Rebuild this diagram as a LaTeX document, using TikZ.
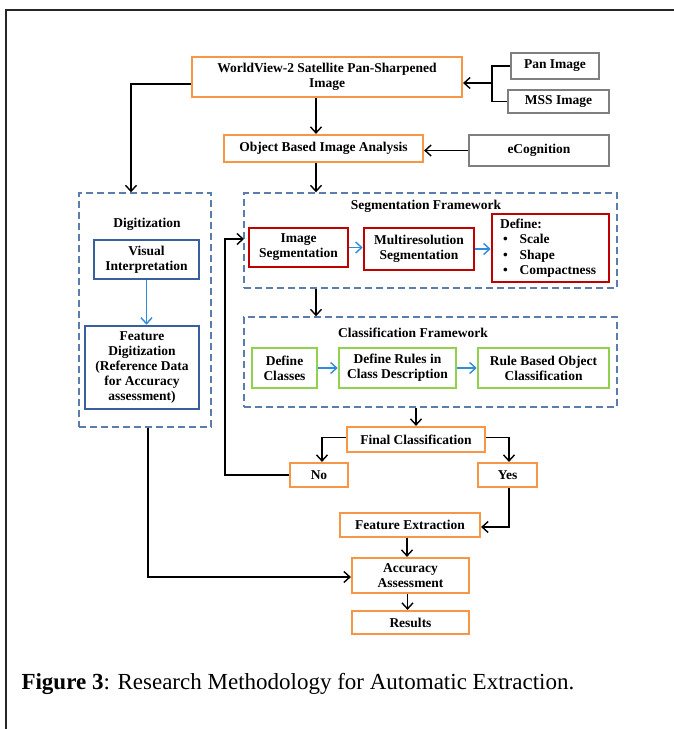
\documentclass[tikz,border=0pt]{standalone}
\usepackage{fontspec}
\setmainfont{Liberation Serif}
\usetikzlibrary{arrows.meta}
\definecolor{boxorange}{HTML}{F79646}
\definecolor{boxgray}{HTML}{7F7F7F}
\definecolor{boxblue}{HTML}{38609E}
\definecolor{boxred}{HTML}{C00000}
\definecolor{boxgreen}{HTML}{92D050}
\definecolor{framedash}{HTML}{5A7DAE}
\definecolor{flowblue}{HTML}{2F8BDB}
\begin{document}
\begin{tikzpicture}[x=1pt, y=-1pt,
  box/.style={draw, line width=2.2pt, fill=white, align=center, inner sep=0pt, font=\bfseries\fontsize{13.5}{15}\selectfont},
  obox/.style={box, draw=boxorange},
  gbox/.style={box, draw=boxgray},
  bbox/.style={box, draw=boxblue, line width=2.6pt},
  rbox/.style={box, draw=boxred, line width=2.6pt},
  cbox/.style={box, draw=boxgreen, line width=2.6pt},
  frame/.style={draw=framedash, line width=1.4pt, dash pattern=on 7pt off 4pt, inner sep=0pt},
  title/.style={font=\bfseries\fontsize{13.5}{15}\selectfont},
  arrow/.style={-{Straight Barb[length=6pt,width=11pt]}, line width=1.4pt},
  barrow/.style={arrow, draw=flowblue}
]
\useasboundingbox (0,0) rectangle (674,729);
\draw[line width=1.2pt, black!85] (6,729) -- (6,10) -- (674,10);

\node[obox, minimum width=270pt, minimum height=40pt] (wv) at (327,77) {WorldView-2 Satellite Pan-Sharpened\\Image};
\node[gbox, minimum width=88pt, minimum height=26pt] (pan) at (555,66) {Pan Image};
\node[gbox, minimum width=101pt, minimum height=23pt] (mss) at (558.5,101.5) {MSS Image};
\node[obox, minimum width=199pt, minimum height=27pt] (obia) at (323.5,148.5) {Object Based Image Analysis};
\node[gbox, minimum width=140pt, minimum height=31pt] (ecog) at (539,150.5) {eCognition};

\node[frame, minimum width=132pt, minimum height=234pt] (digit) at (145,310) {};
\node[title] (digittitle) at (147,224) {Digitization};
\node[bbox, minimum width=105pt, minimum height=39pt] (visual) at (146.5,259.5) {Visual\\Interpretation};
\node[bbox, minimum width=114pt, minimum height=83pt] (featdig) at (142,367.5) {Feature\\Digitization\\(Reference Data\\for Accuracy\\assessment)};

\node[frame, minimum width=373pt, minimum height=95pt] (segframe) at (430.5,240.5) {};
\node[title] (segtitle) at (426,206) {Segmentation Framework};
\node[rbox, minimum width=99pt, minimum height=39pt] (imgseg) at (298.5,247.5) {Image\\Segmentation};
\node[rbox, minimum width=110pt, minimum height=42pt] (multi) at (419,249) {Multiresolution\\Segmentation};
\node[rbox, minimum width=117pt, minimum height=68pt, text width=101pt, align=left, font=\bfseries\fontsize{13.5}{15.5}\selectfont] (define) at (550.5,248)
  {Define:\\\hspace*{3pt}\textbullet\hspace{12pt}Scale\\\hspace*{3pt}\textbullet\hspace{12pt}Shape\\\hspace*{3pt}\textbullet\hspace{12pt}Compactness};

\node[frame, minimum width=373pt, minimum height=90pt] (classframe) at (430.5,362) {};
\node[title] (classtitle) at (413,333) {Classification Framework};
\node[cbox, minimum width=65pt, minimum height=40pt] (defcls) at (284.5,368) {Define\\Classes};
\node[cbox, minimum width=117pt, minimum height=40pt] (defrules) at (397.5,368) {Define Rules in\\Class Description};
\node[cbox, minimum width=131pt, minimum height=40pt] (rulebased) at (543.5,368) {Rule Based Object\\Classification};

\node[obox, minimum width=138pt, minimum height=25pt] (final) at (416,439.5) {Final Classification};
\node[obox, minimum width=58pt, minimum height=24pt] (no) at (319,475) {No};
\node[obox, minimum width=59pt, minimum height=24pt] (yes) at (507.5,475) {Yes};
\node[obox, minimum width=140pt, minimum height=24pt] (featext) at (410,525) {Feature Extraction};
\node[obox, minimum width=117pt, minimum height=35pt] (acc) at (410.5,575.5) {Accuracy\\Assessment};
\node[obox, minimum width=117pt, minimum height=23pt] (results) at (410.5,622.5) {Results};

\node[anchor=base west, font=\fontsize{23}{27}\selectfont] (caption) at (18,689) {\textbf{Figure 3}: Research Methodology for Automatic Extraction.};

\coordinate (junc) at (492,83);
\coordinate (spine) at (316,0);
\coordinate (segin) at (244,239);

\draw[line width=1.4pt] (pan.west) -| (junc);
\draw[line width=1.4pt] (mss.west) -| (junc);
\draw[arrow] (junc) -- (junc -| wv.east);
\draw[arrow] (spine |- wv.south) -- (spine |- obia.north);
\draw[arrow] (ecog.west) -- (ecog.west -| obia.east);
\draw[arrow] (spine |- obia.south) -- (spine |- segframe.north);
\draw[arrow] ([yshift=-7pt]wv.west) -| ([xshift=-14pt]digit.north);
\draw[barrow] (visual.south) -- (visual.south |- featdig.north);
\draw[barrow] (imgseg.east) -- (imgseg.east -| multi.west);
\draw[barrow] (multi.east) -- (multi.east -| define.west);
\draw[arrow] (spine |- segframe.south) -- (spine |- classframe.north);
\draw[barrow] (defcls.east) -- (defcls.east -| defrules.west);
\draw[barrow] (defrules.east) -- (defrules.east -| rulebased.west);
\draw[arrow] (final |- classframe.south) -- (final.north);
\draw[arrow] ([yshift=2pt]final.west) -| ([xshift=3pt]no.north);
\draw[arrow] ([yshift=2pt]final.east) -| ([xshift=1.5pt]yes.north);
\draw[arrow] (no.west) -| ([xshift=-19pt]segin) -- (segin);
\draw[arrow] ([xshift=1.5pt]yes.south) |- ([yshift=-2pt]featext.east);
\draw[arrow] ([xshift=-3pt]featext.south) -- ([xshift=-3pt]featext.south |- acc.north);
\draw[arrow] ([xshift=3pt]digit.south) |- ([yshift=-1.5pt]acc.west);
\draw[arrow] ([xshift=-3pt]acc.south) -- ([xshift=-3pt]acc.south |- results.north);
\end{tikzpicture}
\end{document}
